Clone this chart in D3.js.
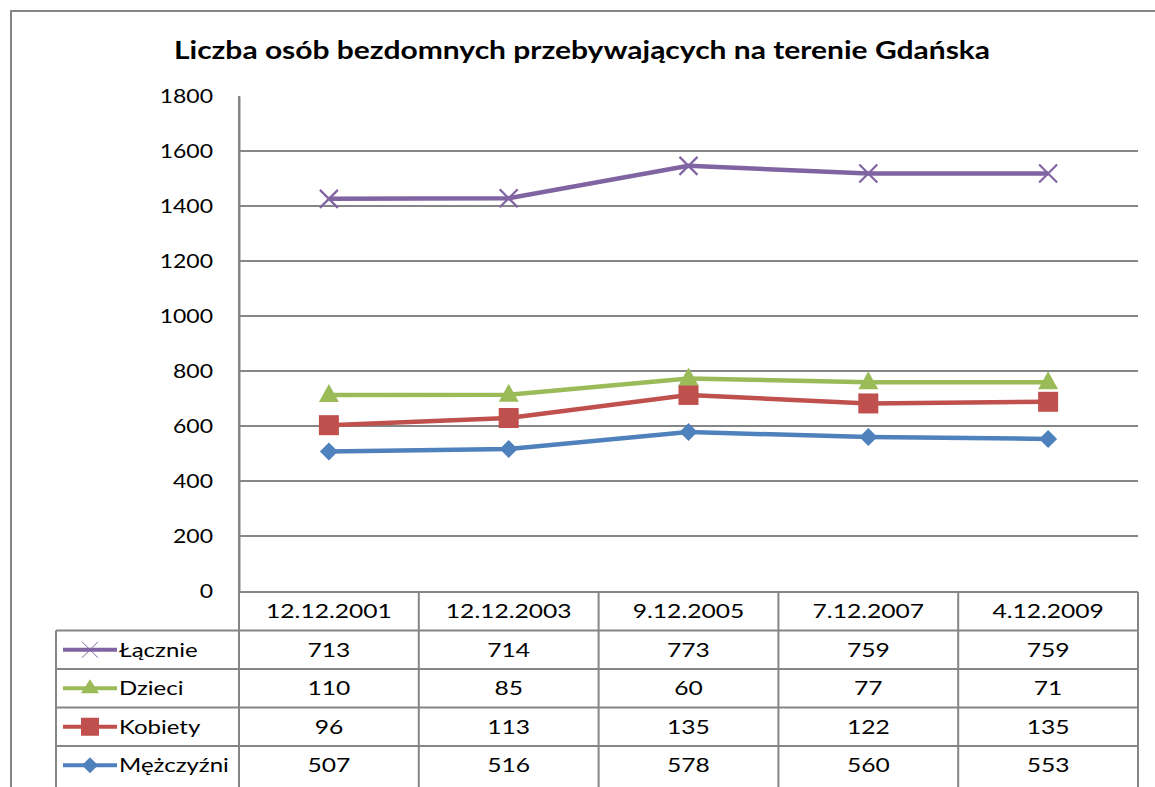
<!DOCTYPE html>
<html>
<head>
<meta charset="utf-8">
<script src="https://cdn.jsdelivr.net/npm/d3@7"></script>
<style>
  body { margin: 0; background: #fff; }
  svg { font-family: Lato, "Open Sans", sans-serif; }
</style>
</head>
<body>
<svg id="chart"></svg>
<script>
var width = 1155, height = 787;

var dates = ["12.12.2001", "12.12.2003", "9.12.2005", "7.12.2007", "4.12.2009"];
var mezczyzni = [507, 516, 578, 560, 553];
var kobiety = [96, 113, 135, 122, 135];
var dzieci = [110, 85, 60, 77, 71];
var lacznie = [713, 714, 773, 759, 759];
var yTicks = [0, 200, 400, 600, 800, 1000, 1200, 1400, 1600, 1800];

// bottom to top stacking order
var series = [
  { key: "Mężczyźni", values: mezczyzni, color: "#4F81BD", marker: "diamond" },
  { key: "Kobiety", values: kobiety, color: "#C0504D", marker: "square" },
  { key: "Dzieci", values: dzieci, color: "#9BBB59", marker: "triangle" },
  { key: "Łącznie", values: lacznie, color: "#8064A2", marker: "x" }
];

var plot = { left: 239, right: 1138, top: 96, bottom: 591 };
var rowH = 38.5;
var legendLeft = 56;
var grid = "#868686";
var stretch = 1.2;   // the original text looks horizontally stretched

var svg = d3.select("#chart").attr("width", width).attr("height", height);

// helper: text placed at (x,y) and widened a little
function label(parent, tx, ty, str, anchor, size, sx) {
  return parent.append("text")
    .attr("transform", "translate(" + tx + "," + ty + ") scale(" + (sx || stretch) + ",1)")
    .attr("text-anchor", anchor || "start")
    .style("font-size", (size || 20) + "px")
    .text(str);
}

// outer chart frame
svg.append("rect")
  .attr("x", 11).attr("y", 11)
  .attr("width", width).attr("height", height)
  .attr("fill", "none").attr("stroke", grid).attr("stroke-width", 2);

label(svg, 582, 59, "Liczba osób bezdomnych przebywających na terenie Gdańska", "middle", 24, 1.25)
  .style("font-weight", "bold");

var x = d3.scaleBand().domain(dates).range([plot.left, plot.right]);
var y = d3.scaleLinear().domain([0, 1800]).range([plot.bottom, plot.top]);

// gridlines (not at top)
svg.append("g").selectAll("line")
  .data(yTicks.filter(function (d) { return d > 0 && d < 1800; }))
  .enter().append("line")
  .attr("x1", plot.left).attr("x2", plot.right)
  .attr("y1", function (d) { return y(d); })
  .attr("y2", function (d) { return y(d); })
  .attr("stroke", grid).attr("stroke-width", 2);

// y axis
var yAxis = svg.append("g")
  .attr("transform", "translate(" + plot.left + ",0)")
  .call(d3.axisLeft(y).tickValues(yTicks).tickFormat(d3.format("d")).tickSize(0).tickPadding(26));
yAxis.select(".domain").attr("stroke", grid).attr("stroke-width", 2);
yAxis.selectAll("text").remove();
yTicks.forEach(function (t) {
  label(svg, plot.left - 26, y(t) + 7, d3.format("d")(t), "end", 20, 1.15);
});

// stacked values
var stack = d3.stack()
  .keys(series.map(function (s) { return s.key; }))
  .value(function (d, key) { return d[key]; });
var rows = dates.map(function (d, i) {
  var r = { date: d };
  series.forEach(function (s) { r[s.key] = s.values[i]; });
  return r;
});
var stacked = stack(rows);

var line = d3.line()
  .x(function (d) { return x(d.data.date) + x.bandwidth() / 2; })
  .y(function (d) { return y(d[1]); });

function drawMarker(g, type, color) {
  if (type === "x") {
    g.append("path").attr("d", "M-9,-9L9,9M-9,9L9,-9")
      .attr("stroke", color).attr("stroke-width", 2.2).attr("fill", "none");
  } else if (type === "triangle") {
    g.append("path").attr("d", "M0,-11L10,7L-10,7Z").attr("fill", color);
  } else if (type === "square") {
    g.append("rect").attr("x", -10).attr("y", -10).attr("width", 20).attr("height", 20).attr("fill", color);
  } else {
    g.append("path").attr("d", "M0,-9L9,0L0,9L-9,0Z").attr("fill", color);
  }
}

stacked.forEach(function (layer, i) {
  var s = series[i];
  svg.append("path")
    .datum(layer)
    .attr("d", line)
    .attr("fill", "none")
    .attr("stroke", s.color)
    .attr("stroke-width", 4.5);
  layer.forEach(function (d) {
    var g = svg.append("g")
      .attr("transform", "translate(" + (x(d.data.date) + x.bandwidth() / 2) + "," + y(d[1]) + ")");
    drawMarker(g, s.marker, s.color);
  });
});

// data table
var table = svg.append("g");
var tTop = plot.bottom + 1;
var tableRows = series.slice().reverse();
var tBottom = height + 5;

// horizontal lines
table.append("line")
  .attr("x1", plot.left).attr("x2", plot.right)
  .attr("y1", tTop).attr("y2", tTop)
  .attr("stroke", grid).attr("stroke-width", 2);
tableRows.forEach(function (s, i) {
  var yy = tTop + rowH * (i + 1);
  table.append("line")
    .attr("x1", legendLeft).attr("x2", plot.right)
    .attr("y1", yy).attr("y2", yy)
    .attr("stroke", grid).attr("stroke-width", 2);
});

// vertical lines
var vx = dates.map(function (d) { return x(d); }).concat([plot.right]);
vx.forEach(function (xx) {
  table.append("line")
    .attr("x1", xx).attr("x2", xx)
    .attr("y1", xx === plot.left ? plot.top : tTop).attr("y2", tBottom)
    .attr("stroke", grid).attr("stroke-width", 2);
});
table.append("line")
  .attr("x1", legendLeft).attr("x2", legendLeft)
  .attr("y1", tTop + rowH).attr("y2", tBottom)
  .attr("stroke", grid).attr("stroke-width", 2);

// header dates
dates.forEach(function (d) {
  label(table, x(d) + x.bandwidth() / 2, tTop + rowH / 2 + 7, d, "middle", 20, 1.23);
});

tableRows.forEach(function (s, i) {
  var cy = tTop + rowH * (i + 1) + rowH / 2;
  s.values.forEach(function (v, j) {
    label(table, x(dates[j]) + x.bandwidth() / 2, cy + 7, v, "middle", 20, 1.23);
  });
  // legend key
  table.append("line")
    .attr("x1", 63).attr("x2", 117)
    .attr("y1", cy).attr("y2", cy)
    .attr("stroke", s.color).attr("stroke-width", 4);
  var g = table.append("g").attr("transform", "translate(90," + cy + ")");
  if (s.marker === "x") {
    g.append("path").attr("d", "M-8,-8L8,8M-8,8L8,-8")
      .attr("stroke", s.color).attr("stroke-width", 1).attr("fill", "none");
  } else if (s.marker === "triangle") {
    g.append("path").attr("d", "M0,-9L9,5L-9,5Z").attr("fill", s.color);
  } else if (s.marker === "square") {
    g.append("rect").attr("x", -9).attr("y", -9).attr("width", 18).attr("height", 18).attr("fill", s.color);
  } else {
    g.append("path").attr("d", "M0,-8L8,0L0,8L-8,0Z").attr("fill", s.color);
  }
  label(table, 119, cy + 7, s.key, "start", 20, 1.2);
});
</script>
</body>
</html>
